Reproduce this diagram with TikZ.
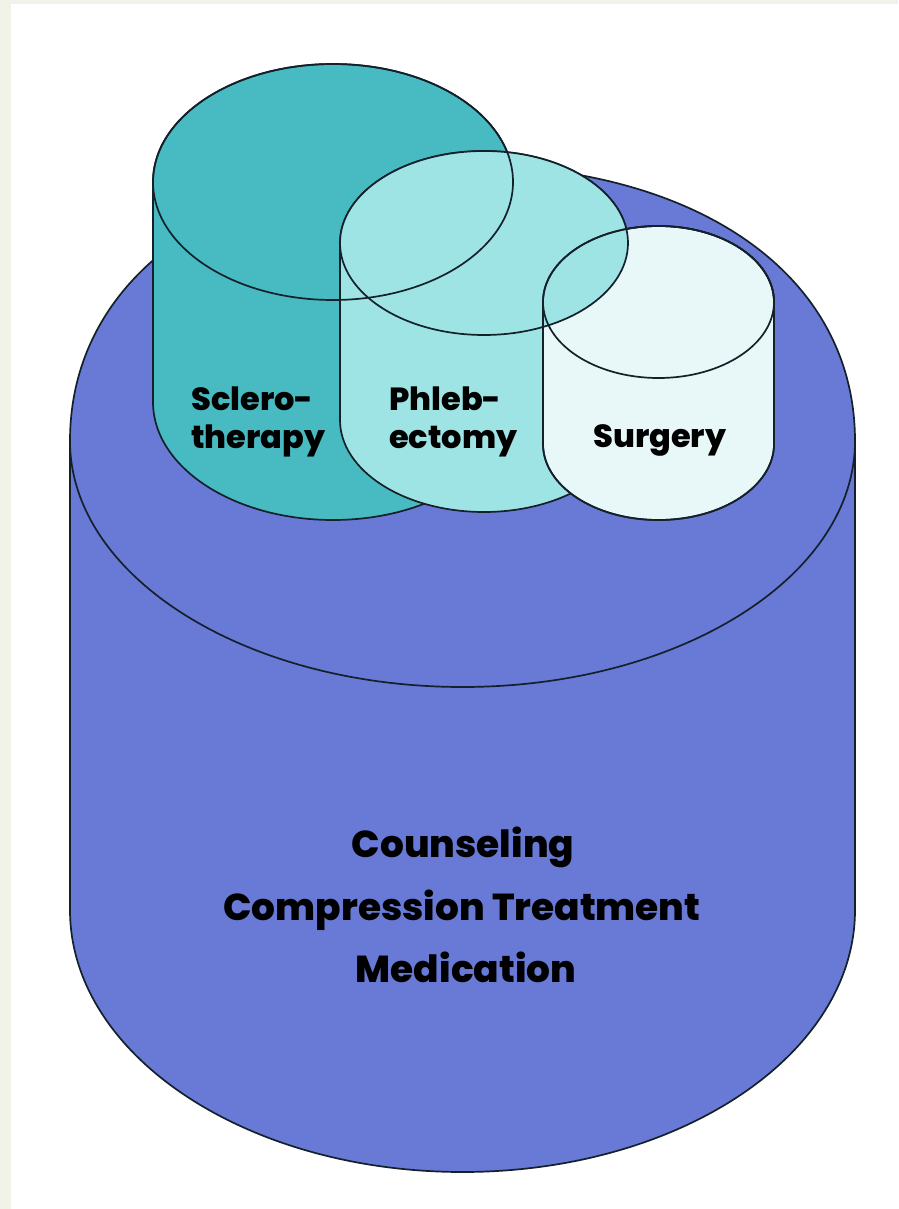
\documentclass[tikz,border=0pt]{standalone}
\usepackage{fontspec}
\setmainfont{Poppins}[BoldFont={Poppins ExtraBold}]
\definecolor{stripc}{RGB}{241,243,233}
\definecolor{bigblue}{RGB}{104,122,214}
\definecolor{sclc}{RGB}{72,186,194}
\definecolor{phlc}{RGB}{158,228,228}
\definecolor{surc}{RGB}{232,248,248}
\definecolor{linec}{RGB}{20,32,42}
\tikzset{
  outline/.style={draw=linec, line width=1.7pt},
  smalllbl/.style={inner sep=0pt, font=\fontsize{32}{38}\selectfont\bfseries, text=black},
  biglbl/.style={inner sep=0pt, font=\fontsize{37.5}{62}\selectfont\bfseries, text=black}
}
\begin{document}
\begin{tikzpicture}[x=1pt,y=-1pt]
\useasboundingbox (0,0) rectangle (898,1209);
\fill[white] (0,0) rectangle (898,1209);
\fill[stripc] (0,0) rectangle (11,1209);
\fill[stripc] (0,0) rectangle (898,4);

% big cylinder
\path[fill=bigblue, outline] (70,441) -- (70,910)
  arc[start angle=180, end angle=360, x radius=392.5pt, y radius=262pt]
  -- (855,441) .. controls (855,275) and (698,165) .. (462.5,165)
  .. controls (227,165) and (70,275) .. (70,441) -- cycle;
\draw[outline] (70,441) arc[start angle=180, end angle=360, x radius=392.5pt, y radius=246pt];

% sclerotherapy cylinder
\path[fill=sclc, outline] (153,182) -- (153,402)
  arc[start angle=180, end angle=360, x radius=180pt, y radius=118pt]
  -- (513,182) arc[start angle=0, end angle=180, x radius=180pt, y radius=118pt] -- cycle;

% phlebectomy cylinder
\path[fill=phlc, outline] (340,243) -- (340,420)
  arc[start angle=180, end angle=360, x radius=144pt, y radius=92pt]
  -- (628,243) arc[start angle=0, end angle=180, x radius=144pt, y radius=92pt] -- cycle;

% surgery cylinder
\path[fill=surc, outline] (543,302) -- (543,444)
  arc[start angle=180, end angle=360, x radius=115.5pt, y radius=76pt]
  -- (774,302) arc[start angle=0, end angle=180, x radius=115.5pt, y radius=76pt] -- cycle;

% phlebectomy top face over surgery
\fill[phlc] (484,243) ellipse[x radius=144pt, y radius=92pt];

% outlines on top
\draw[outline] (543,302) -- (543,444)
  arc[start angle=180, end angle=360, x radius=115.5pt, y radius=76pt]
  -- (774,302) arc[start angle=0, end angle=180, x radius=115.5pt, y radius=76pt] -- cycle;
\draw[outline] (333,182) ellipse[x radius=180pt, y radius=118pt];
\draw[outline] (484,243) ellipse[x radius=144pt, y radius=92pt];
\draw[outline] (658.5,302) ellipse[x radius=115.5pt, y radius=76pt];

% labels
\node[smalllbl, anchor=base west] (scl1) at (191,410) {Sclero-};
\node[smalllbl, anchor=base west] (scl2) at (191,448) {therapy};
\node[smalllbl, anchor=base west] (phl1) at (389,410) {Phleb-};
\node[smalllbl, anchor=base west] (phl2) at (389,448) {ectomy};
\node[smalllbl, anchor=base west] (sur) at (593,447) {Surgery};
\node[biglbl, anchor=base] (cou) at (463,857) {Counseling};
\node[biglbl, anchor=base] (com) at (462,920) {Compression Treatment};
\node[biglbl, anchor=base] (med) at (466,982) {Medication};
\end{tikzpicture}
\end{document}
